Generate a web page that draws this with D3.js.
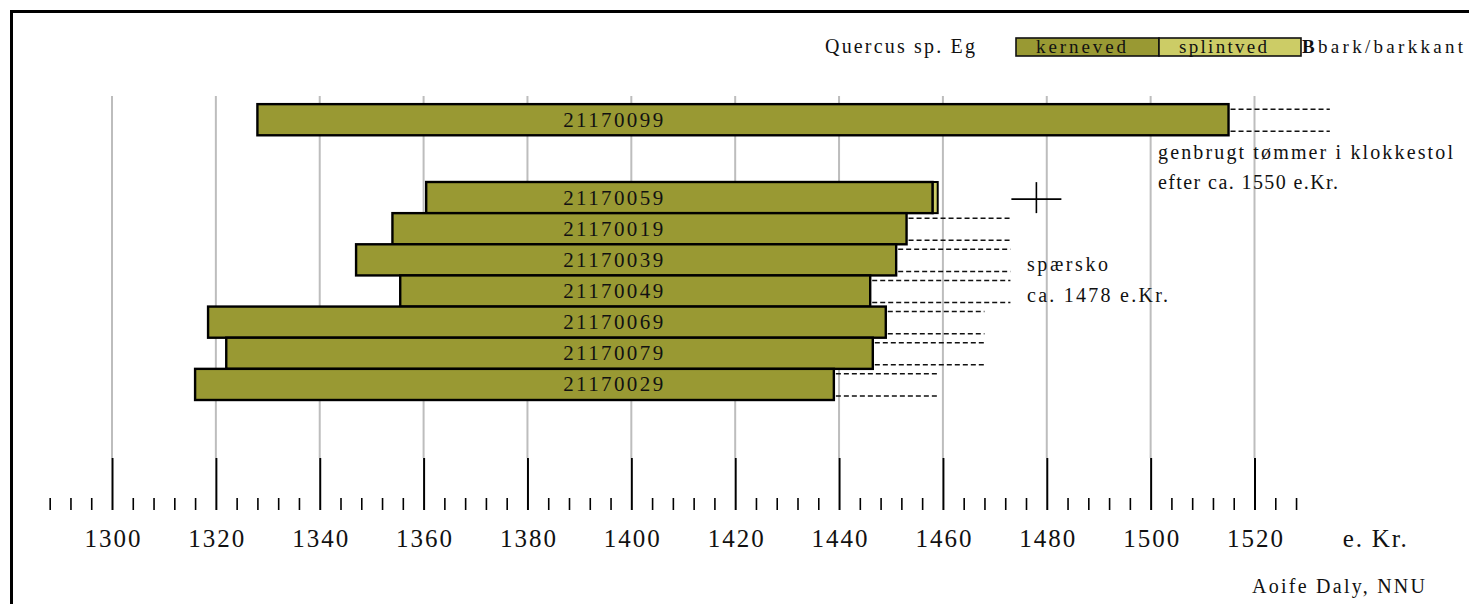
<!DOCTYPE html>
<html>
<head>
<meta charset="utf-8">
<script src="https://cdn.jsdelivr.net/npm/d3@7"></script>
<style>
	body { margin: 0; background: #fff; }
	svg text { font-family: 'Liberation Serif', 'Times New Roman', serif; fill: #111; }
</style>
</head>
<body>
<div id="chart"></div>
<script>
'use strict';

// samples, top to bottom
var samples   = ['21170099', '21170059', '21170019', '21170039', '21170049', '21170069', '21170079', '21170029'];
var rows      = [-2.5, 0, 1, 2, 3, 4, 5, 6];
var startYear = [1328, 1360.5, 1354, 1347, 1355.5, 1318.5, 1322, 1316];
var heartEnd  = [1515, 1458, 1453, 1451, 1446, 1449, 1446.5, 1439];
var sapEnd    = [1515, 1459, 1453, 1451, 1446, 1449, 1446.5, 1439];
var dashEnd   = [1534.5, null, 1473, 1473, 1473, 1468, 1468, 1459];

var majorTicks = d3.range(1300, 1521, 20);
var minorTicks = d3.range(1288, 1529, 4).filter(function (t) { return t % 20 !== 0; });

var fellingYear = 1478;

var width = 1469, height = 604;

var svg = d3.select('#chart')
            .append('svg')
            .attr('width', width)
            .attr('height', height);

var x = d3.scaleLinear().domain([1300, 1520]).range([112, 1254.5]);
var y = d3.scaleLinear().domain([0, 7]).range([182, 400]);

// frame (only top and left edge are inside the picture)
svg.append('path')
   .attr('d', 'M11.5,604 V11.5 H1469')
   .attr('fill', 'none')
   .attr('stroke', '#000')
   .attr('stroke-width', 3);

// grid lines
svg.selectAll('line.grid')
   .data(majorTicks)
   .enter()
   .append('line')
   .attr('class', 'grid')
   .attr('x1', function (d) { return x(d); })
   .attr('x2', function (d) { return x(d); })
   .attr('y1', 96)
   .attr('y2', 458)
   .attr('stroke', '#bdbdbd')
   .attr('stroke-width', 2);

// minor ticks
var minorAxis = d3.axisBottom(x)
                  .tickValues(minorTicks)
                  .tickSize(-12)
                  .tickFormat('');
svg.append('g')
   .attr('transform', 'translate(0,510)')
   .call(minorAxis)
   .call(function (g) { g.select('.domain').remove(); })
   .selectAll('line')
   .attr('stroke', '#000')
   .attr('stroke-width', 1.6);

// major ticks + labels
var majorAxis = d3.axisBottom(x)
                  .tickValues(majorTicks)
                  .tickSize(-52)
                  .tickPadding(19)
                  .tickFormat(d3.format('d'));
var ax = svg.append('g')
            .attr('transform', 'translate(0,510)')
            .call(majorAxis)
            .call(function (g) { g.select('.domain').remove(); });
ax.selectAll('line')
  .attr('stroke', '#000')
  .attr('stroke-width', 2);
ax.selectAll('text')
  .attr('font-family', "'Liberation Serif', serif")
  .attr('font-size', 25)
  .attr('fill', '#111')
  .attr('textLength', 56)
  .attr('lengthAdjust', 'spacing');

svg.append('text')
   .attr('x', x(1537))
   .attr('y', 547)
   .attr('font-size', 25)
   .attr('textLength', 64)
   .text('e. Kr.');

// dashed extensions
var dashRows = d3.range(samples.length).filter(function (i) { return dashEnd[i] !== null; });
dashRows.forEach(function (i) {
	[5, y(1) - y(0) - 4].forEach(function (off) {
		svg.append('line')
		   .attr('x1', x(sapEnd[i]) + 2)
		   .attr('x2', x(dashEnd[i]))
		   .attr('y1', y(rows[i]) + off)
		   .attr('y2', y(rows[i]) + off)
		   .attr('stroke', '#111')
		   .attr('stroke-width', 1.5)
		   .attr('stroke-dasharray', '5,3');
	});
});

// bars
var bars = svg.selectAll('g.bar')
              .data(samples)
              .enter()
              .append('g')
              .attr('class', 'bar');

bars.append('rect')
    .attr('x', function (d, i) { return x(heartEnd[i]); })
    .attr('y', function (d, i) { return y(rows[i]); })
    .attr('width', function (d, i) { return x(sapEnd[i]) - x(heartEnd[i]); })
    .attr('height', y(1) - y(0))
    .attr('fill', '#cccc66')
    .attr('stroke', '#000')
    .attr('stroke-width', 2);

bars.append('rect')
    .attr('x', function (d, i) { return x(startYear[i]); })
    .attr('y', function (d, i) { return y(rows[i]); })
    .attr('width', function (d, i) { return x(heartEnd[i]) - x(startYear[i]); })
    .attr('height', y(1) - y(0))
    .attr('fill', '#999933')
    .attr('stroke', '#000')
    .attr('stroke-width', 2.4);

bars.append('text')
    .attr('x', x(1396.5))
    .attr('y', function (d, i) { return y(rows[i]) + (y(1) - y(0)) / 2 + 7; })
    .attr('text-anchor', 'middle')
    .attr('font-size', 21)
    .attr('textLength', 100)
    .attr('lengthAdjust', 'spacing')
    .text(function (d) { return d; });

// felling date cross
var cy = y(0.55);
svg.append('line')
   .attr('x1', x(fellingYear) - 25).attr('x2', x(fellingYear) + 25)
   .attr('y1', cy).attr('y2', cy)
   .attr('stroke', '#000').attr('stroke-width', 1.6);
svg.append('line')
   .attr('x1', x(fellingYear)).attr('x2', x(fellingYear))
   .attr('y1', cy - 17).attr('y2', cy + 14)
   .attr('stroke', '#000').attr('stroke-width', 1.6);

// annotations
var notes = [
	{ t: 'genbrugt tømmer i klokkestol', x: 1158, y: 159, w: 295 },
	{ t: 'efter ca. 1550 e.Kr.',         x: 1158, y: 189, w: 180 },
	{ t: 'spærsko',                      x: 1027, y: 271, w: 81 },
	{ t: 'ca. 1478 e.Kr.',               x: 1027, y: 302, w: 141 },
	{ t: 'Aoife Daly, NNU',              x: 1252, y: 593, w: 173 },
	{ t: 'Quercus sp. Eg',               x: 825,  y: 53,  w: 150 }
];
svg.selectAll('text.note')
   .data(notes)
   .enter()
   .append('text')
   .attr('class', 'note')
   .attr('x', function (d) { return d.x; })
   .attr('y', function (d) { return d.y; })
   .attr('font-size', 20)
   .attr('textLength', function (d) { return d.w; })
   .attr('lengthAdjust', 'spacing')
   .text(function (d) { return d.t; });

// legend
var legend = svg.append('g');
legend.append('rect')
      .attr('x', 1016).attr('y', 38).attr('width', 143).attr('height', 18)
      .attr('fill', '#999933').attr('stroke', '#111').attr('stroke-width', 1.6);
legend.append('rect')
      .attr('x', 1159).attr('y', 38).attr('width', 142).attr('height', 18)
      .attr('fill', '#cccc66').attr('stroke', '#111').attr('stroke-width', 1.6);
legend.append('text')
      .attr('x', 1036).attr('y', 53).attr('font-size', 19)
      .attr('textLength', 90).attr('lengthAdjust', 'spacing')
      .text('kerneved');
legend.append('text')
      .attr('x', 1179).attr('y', 53).attr('font-size', 19)
      .attr('textLength', 88).attr('lengthAdjust', 'spacing')
      .text('splintved');
legend.append('text')
      .attr('x', 1302).attr('y', 53).attr('font-size', 19)
      .attr('font-weight', 'bold')
      .text('B');
legend.append('text')
      .attr('x', 1318).attr('y', 53).attr('font-size', 19)
      .attr('textLength', 145).attr('lengthAdjust', 'spacing')
      .text('bark/barkkant');
</script>
</body>
</html>
